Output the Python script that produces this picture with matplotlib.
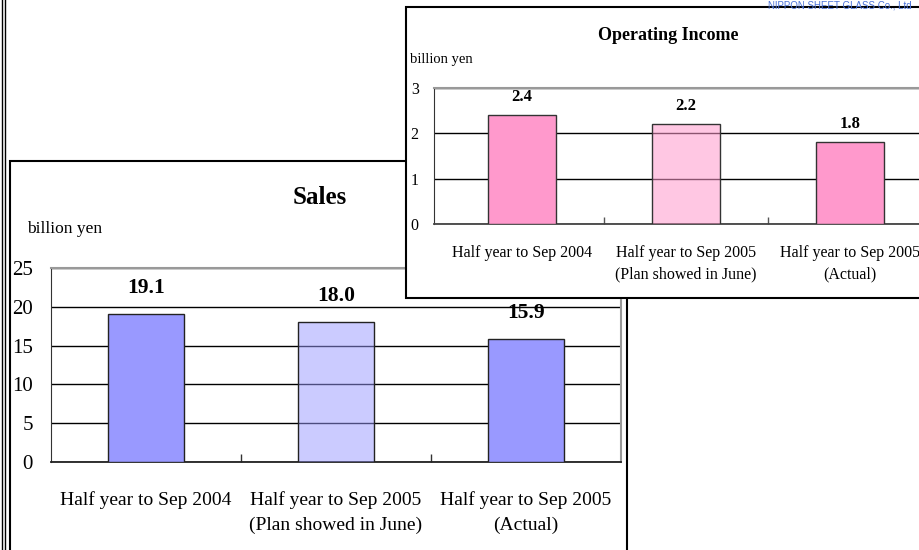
import matplotlib
matplotlib.use("Agg")
import matplotlib.pyplot as plt
from matplotlib.patches import Rectangle
from matplotlib.lines import Line2D

plt.rcParams['font.family'] = ['Liberation Serif', 'DejaVu Serif']

# ---- data ----
categories = ["Half year to Sep 2004",
              "Half year to Sep 2005\n(Plan showed in June)",
              "Half year to Sep 2005\n(Actual)"]
sales_values = [19.1, 18.0, 15.9]
sales_labels = ["19.1", "18.0", "15.9"]
income_values = [2.4, 2.2, 1.8]
income_labels = ["2.4", "2.2", "1.8"]
sales_yticks = [0, 5, 10, 15, 20, 25]
income_yticks = [0, 1, 2, 3]

W, H = 920, 550
fig = plt.figure(figsize=(W / 100, H / 100), dpi=100)
fig.patch.set_facecolor('white')


def fx(px):
    return px / W


def fy(py):
    return 1 - py / H


def ax_rect(left, top, right, bottom):
    return [fx(left), fy(bottom), (right - left) / W, (bottom - top) / H]


# outer frame double line at left
for x in (2.5, 5.5):
    fig.add_artist(Line2D([fx(x), fx(x)], [0, 1], color='black', lw=1.0,
                          transform=fig.transFigure, zorder=-2))

# ---- Sales panel ----
fig.add_artist(Rectangle((fx(10), fy(560)), (627 - 10) / W, (560 - 161) / H,
                         transform=fig.transFigure, facecolor='white',
                         edgecolor='black', lw=1.5, zorder=-1))

ax1 = fig.add_axes(ax_rect(51, 268, 621, 462), zorder=0)
x = range(len(categories))
sales_colors = ['#9999FF', (0.6, 0.6, 1.0, 0.5), '#9999FF']
ax1.bar(x, sales_values, width=0.4, color=sales_colors, edgecolor='#222222',
        linewidth=1.0, zorder=3)
ax1.set_xlim(-0.5, 2.5)
ax1.set_ylim(0, 25)
ax1.set_yticks(sales_yticks)
ax1.yaxis.grid(True, color='black', lw=1.0, zorder=0)
ax1.set_axisbelow(True)
ax1.tick_params(axis='y', length=0, pad=13, labelsize=15)
ax1.set_xticks(list(x))
ax1.set_xticklabels(categories, fontsize=14, linespacing=1.6)
ax1.set_xticks([0.5, 1.5], minor=True)
ax1.tick_params(axis='x', which='major', length=0, pad=21)
ax1.tick_params(axis='x', which='minor', direction='in', length=6, width=1.0,
                color='#333333')
for s in ('top', 'right'):
    ax1.spines[s].set_color('#999999')
    ax1.spines[s].set_linewidth(1.5)
ax1.spines['left'].set_color('#333333')
ax1.spines['bottom'].set_color('#222222')
ax1.spines['bottom'].set_linewidth(1.3)
for xi, v, lab in zip(x, sales_values, sales_labels):
    ax1.annotate(lab, (xi, v), xytext=(0, 26), textcoords='offset pixels',
                 ha='center', va='center', fontsize=15.5, fontweight='bold')

fig.text(fx(320), fy(198), "Sales", ha='center', va='center', fontsize=18,
         fontweight='bold')
fig.text(fx(27), fy(229), "billion yen", ha='left', va='center', fontsize=12.5)

# ---- Operating income panel ----
fig.add_artist(Rectangle((fx(406), fy(298)), (940 - 406) / W, (298 - 7) / H,
                         transform=fig.transFigure, facecolor='white',
                         edgecolor='black', lw=1.5, zorder=1))

ax2 = fig.add_axes(ax_rect(434, 88, 930, 224), zorder=2)
income_colors = ['#FF99CC', (1.0, 0.6, 0.8, 0.55), '#FF99CC']
ax2.bar(x, income_values, width=0.41, color=income_colors,
        edgecolor='#333333', linewidth=1.0, zorder=3)
ax2.set_xlim(-0.537, 2.488)
ax2.set_ylim(0, 3)
ax2.set_yticks(income_yticks)
ax2.yaxis.grid(True, color='black', lw=1.0, zorder=0)
ax2.set_axisbelow(True)
ax2.tick_params(axis='y', length=0, pad=11, labelsize=11.5)
ax2.set_xticks(list(x))
ax2.set_xticklabels(categories, fontsize=11.5, linespacing=1.5)
ax2.set_xticks([0.5, 1.5], minor=True)
ax2.tick_params(axis='x', which='major', length=0, pad=15)
ax2.tick_params(axis='x', which='minor', direction='in', length=5, width=1.0,
                color='#555555')
for s in ('top', 'right'):
    ax2.spines[s].set_color('#999999')
    ax2.spines[s].set_linewidth(1.5)
ax2.spines['left'].set_color('#333333')
ax2.spines['bottom'].set_color('#444444')
ax2.spines['bottom'].set_linewidth(1.3)
for xi, v, lab in zip(x, income_values, income_labels):
    ax2.annotate(lab, (xi, v), xytext=(0, 18), textcoords='offset pixels',
                 ha='center', va='center', fontsize=12, fontweight='bold')

fig.text(fx(668), fy(35), "Operating Income", ha='center', va='center',
         fontsize=13, fontweight='bold', zorder=3)
fig.text(fx(410), fy(60), "billion yen", ha='left', va='center',
         fontsize=10.5, zorder=3)

fig.text(fx(912), fy(0.5), "NIPPON SHEET GLASS Co., Ltd", ha='right',
         va='top', fontsize=7.0, color='#4A72D8',
         family=['Liberation Sans', 'DejaVu Sans'], zorder=3)

fig.savefig("out.png", dpi=100, facecolor='white')
